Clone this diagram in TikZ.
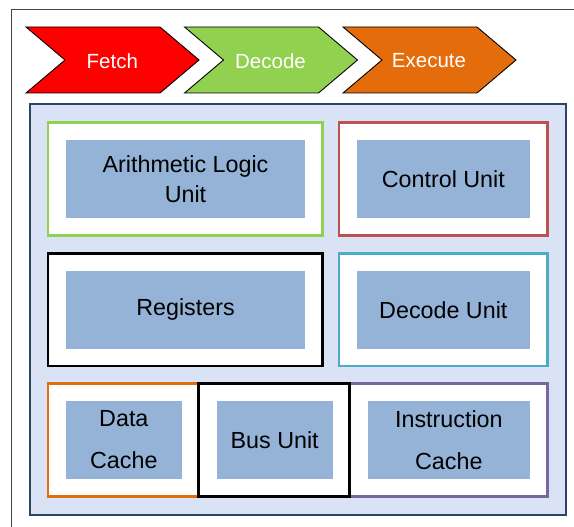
\documentclass[tikz,border=0pt]{standalone}
\usepackage{fontspec}
\setmainfont{Liberation Sans}
\definecolor{fetchred}{HTML}{FF0000}
\definecolor{decgreen}{HTML}{92D050}
\definecolor{exorange}{HTML}{E46C0A}
\definecolor{cured}{HTML}{C0504D}
\definecolor{duteal}{HTML}{4BACC6}
\definecolor{icpurple}{HTML}{8064A2}
\definecolor{innerblue}{HTML}{95B3D7}
\definecolor{panelfill}{HTML}{DAE3F5}
\definecolor{panelline}{HTML}{2A4566}
\definecolor{frameline}{HTML}{444444}
\tikzset{
  chev/.style={draw=black, line width=0.9pt, line join=miter},
  chevtext/.style={text=white, font=\fontsize{20.5}{24}\selectfont, inner sep=0pt},
  outerbox/.style={draw, fill=white, line width=2.8pt, inner sep=0pt},
  innerbox/.style={fill=innerblue, inner sep=0pt, align=center, text=black, font=\fontsize{23.3}{30}\selectfont},
}
\begin{document}
\begin{tikzpicture}[x=1pt,y=-1pt]
\useasboundingbox (0,0) rectangle (574,527);
\clip (0,0) rectangle (574,527);
\fill[white] (0,0) rectangle (574,527);
% outer frame
\draw[frameline, line width=1pt] (11,530) -- (11,10) -- (580,10);
% chevrons
\draw[chev, fill=fetchred] (26,27) -- (160,27) -- (199,60) -- (160,93) -- (26,93) -- (65,60) -- cycle;
\draw[chev, fill=decgreen] (184.5,27) -- (318.5,27) -- (357.5,60) -- (318.5,93) -- (184.5,93) -- (223.5,60) -- cycle;
\draw[chev, fill=exorange] (343,27) -- (477,27) -- (516,60) -- (477,93) -- (343,93) -- (382,60) -- cycle;
\node[chevtext] (fetch) at (112.3,61) {Fetch};
\node[chevtext] (decode) at (270.5,61) {Decode};
\node[chevtext] (execute) at (429,61) {Execute};
% panel
\node[draw=panelline, fill=panelfill, line width=2.5pt, inner sep=0pt, minimum width=536pt, minimum height=411pt] (panel) at (298,309.5) {};
% outer boxes
\node[outerbox, draw=decgreen, minimum width=274.7pt, minimum height=113pt] (aluo) at (185.35,179.2) {};
\node[outerbox, draw=cured, minimum width=208.7pt, minimum height=113pt] (cuo) at (443.35,179.2) {};
\node[outerbox, draw=black, minimum width=274.3pt, minimum height=112.7pt] (rego) at (185.15,309.65) {};
\node[outerbox, draw=duteal, minimum width=208.7pt, minimum height=112.7pt] (duo) at (443.35,309.65) {};
\node[outerbox, draw=exorange, minimum width=150.3pt, minimum height=113.4pt] (dco) at (123.15,440) {};
\node[outerbox, draw=icpurple, minimum width=197.7pt, minimum height=113.4pt] (ico) at (448.85,440) {};
\node[outerbox, draw=black, minimum width=151pt, minimum height=113.4pt] (buso) at (273.8,440) {};
% inner boxes
\node[innerbox, minimum width=239pt, minimum height=77.7pt] (alu) at (185.5,178.85) {Arithmetic Logic\\Unit};
\node[innerbox, minimum width=173.3pt, minimum height=77.7pt] (cu) at (443.35,178.85) {Control Unit};
\node[innerbox, minimum width=239pt, minimum height=77.7pt] (reg) at (185.5,309.85) {Registers};
\node[innerbox, minimum width=173.3pt, minimum height=77.7pt] (du) at (443.35,309.85) {Decode Unit};
\node[innerbox, minimum width=115.7pt, minimum height=77.7pt] (dc) at (123.85,439.85) {Data\\[12pt]Cache};
\node[innerbox, minimum width=116pt, minimum height=77.7pt] (bus) at (274.7,439.85) {Bus Unit};
\node[innerbox, minimum width=162.3pt, minimum height=77.7pt] (ic) at (448.85,439.85) {Instruction\\[12pt]Cache};
\end{tikzpicture}
\end{document}
